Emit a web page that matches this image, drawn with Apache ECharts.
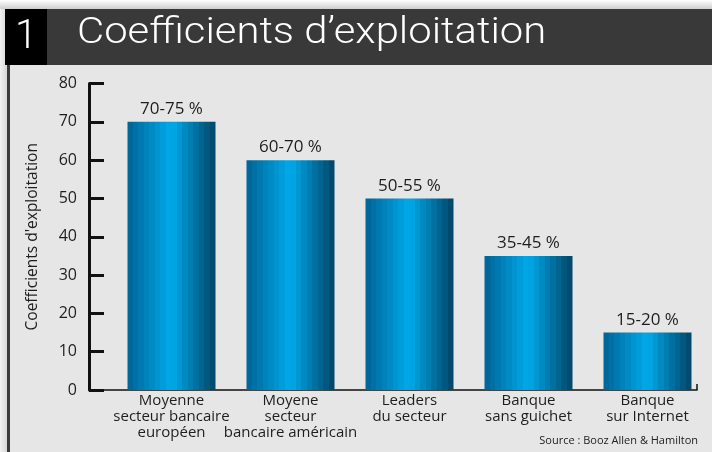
<!DOCTYPE html>
<html><head><meta charset="utf-8">
<script src="https://cdn.jsdelivr.net/npm/echarts@6/dist/echarts.min.js"></script>
<style>html,body{margin:0;padding:0;background:#fff}#c{width:712px;height:452px}</style>
</head><body><div id="c"></div>
<script>
const categories = ['Moyenne\nsecteur bancaire\neuropéen', 'Moyene\nsecteur\nbancaire américain', 'Leaders\ndu secteur', 'Banque\nsans guichet', 'Banque\nsur Internet'];
const values = [70, 60, 50, 35, 15];
const valueLabels = ['70-75 %', '60-70 %', '50-55 %', '35-45 %', '15-20 %'];
const yMin = 0, yMax = 80, yStep = 10;
const chartTitle = 'Coefficients d\u2019exploitation';
const chartNumber = '1';
const yAxisTitle = "Coefficients d'exploitation";
const sourceText = 'Source : Booz Allen & Hamilton';

// striped bar gradient (style only)
function stripes() {
  const N = 16, stops = [];
  const L = [0, 103, 154], P = [0, 170, 235], R = [0, 74, 110];
  const peak = 7.5;
  for (let i = 0; i < N; i++) {
    let c;
    if (i <= peak) { const t = i / peak; c = L.map((v, k) => Math.round(v + (P[k] - v) * t)); }
    else { const t = (i - peak) / (N - 1 - peak); c = P.map((v, k) => Math.round(v + (R[k] - v) * t)); }
    const col = 'rgb(' + c.join(',') + ')';
    stops.push({ offset: i / N, color: col }, { offset: (i + 1) / N - 0.0001, color: col });
  }
  return { type: 'linear', x: 0, y: 0, x2: 1, y2: 0, colorStops: stops };
}

const chart = echarts.init(document.getElementById('c'), null, { renderer: 'canvas' });
const font = '"Open Sans", "Noto Sans", sans-serif';
chart.setOption({
  animation: false,
  backgroundColor: '#ffffff',
  textStyle: { fontFamily: font },
  graphic: [
    { type: 'rect', z: -10, shape: { x: 0, y: 0, width: 712, height: 10 }, style: { fill: { type: 'linear', x: 0, y: 0, x2: 0, y2: 1, colorStops: [{ offset: 0, color: '#ffffff' }, { offset: 1, color: '#c8c8c8' }] } } },
    { type: 'rect', z: -10, shape: { x: 0, y: 9, width: 9, height: 443 }, style: { fill: { type: 'linear', x: 0, y: 0, x2: 1, y2: 0, colorStops: [{ offset: 0, color: '#f2f2f2' }, { offset: 1, color: '#cfcfcf' }] } } },
    { type: 'rect', z: -10, shape: { x: 5, y: 9, width: 707, height: 56 }, style: { fill: '#393939' } },
    { type: 'rect', z: -9, shape: { x: 5, y: 9, width: 42, height: 56 }, style: { fill: '#000000' } },
    { type: 'rect', z: -10, shape: { x: 8, y: 65, width: 704, height: 387 }, style: { fill: '#e6e6e6' } },
    { type: 'rect', z: -9, shape: { x: 7, y: 65, width: 3, height: 387 }, style: { fill: '#3a3a3a' } },
    { type: 'text', z: 5, x: 26, y: 38, style: { text: chartNumber, fill: '#ffffff', font: '300 40px Roboto, "Open Sans", sans-serif', textAlign: 'center', textVerticalAlign: 'middle' } },
    { type: 'text', z: 5, x: 77, y: 34, scaleX: 1.13, style: { text: chartTitle, fill: '#ffffff', font: '300 37px Roboto, "Open Sans", sans-serif', textAlign: 'left', textVerticalAlign: 'middle' } },
    { type: 'text', z: 5, x: 698, y: 441, style: { text: sourceText, fill: '#222222', font: '11px "Open Sans", sans-serif', textAlign: 'right', textVerticalAlign: 'middle' } }
  ],
  grid: [
    { left: 112, right: 5, top: 83.5, bottom: 62 },
    { left: 89, right: 15, top: 83.5, bottom: 62 }
  ],
  xAxis: [
    { type: 'category', gridIndex: 0, data: categories,
      axisLine: { show: false }, axisTick: { show: false },
      axisLabel: { interval: 0, fontSize: 15, lineHeight: 16, color: '#1e1e1e', margin: 3, fontFamily: font } },
    { type: 'value', gridIndex: 1, min: 0, max: 1, interval: 1,
      axisLine: { show: true, lineStyle: { color: '#111', width: 1.5 } },
      axisTick: { show: true, inside: true, length: 6, lineStyle: { color: '#111', width: 1.5 } },
      axisLabel: { show: false }, splitLine: { show: false } }
  ],
  yAxis: [
    { type: 'value', gridIndex: 0, min: yMin, max: yMax, interval: yStep, offset: 23,
      name: yAxisTitle, nameLocation: 'middle', nameGap: 48,
      nameTextStyle: { fontSize: 15.5, color: '#1e1e1e', fontFamily: font },
      axisLine: { show: true, lineStyle: { color: '#111', width: 3 } },
      axisTick: { show: true, inside: true, length: 15, lineStyle: { color: '#111', width: 3 } },
      axisLabel: { fontSize: 16, color: '#1e1e1e', margin: 12, fontFamily: font },
      splitLine: { show: false } },
    { type: 'value', gridIndex: 1, min: yMin, max: yMax, show: false }
  ],
  series: [{
    type: 'bar', xAxisIndex: 0, yAxisIndex: 0, data: values, barWidth: 88, z: 3,
    itemStyle: { color: stripes() },
    label: { show: true, position: 'top', distance: 4, fontSize: 17, color: '#1e1e1e', fontFamily: font,
      formatter: p => valueLabels[p.dataIndex] }
  }]
});
</script></body></html>
